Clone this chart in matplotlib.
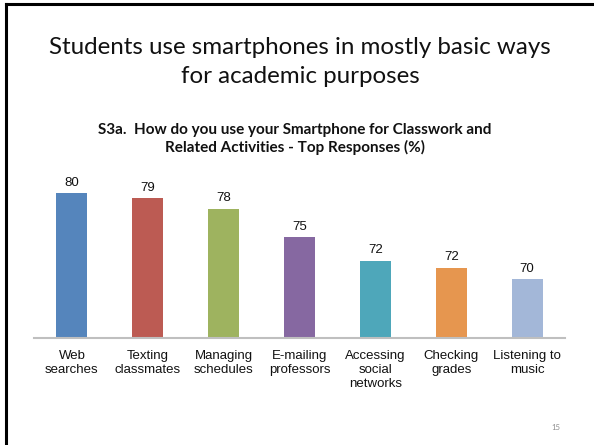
#!/usr/bin/env python3
"""Slide: how students use smartphones for classwork (top responses, %)."""

import matplotlib
matplotlib.use("Agg")
import matplotlib.pyplot as plt
from matplotlib.lines import Line2D

# ---------------------------------------------------------------------------
# Data
# ---------------------------------------------------------------------------

categories = [
    "Web\nsearches",
    "Texting\nclassmates",
    "Managing\nschedules",
    "E-mailing\nprofessors",
    "Accessing\nsocial\nnetworks",
    "Checking\ngrades",
    "Listening to\nmusic",
]
percent = [80.0, 79.4, 78.2, 75.0, 72.3, 71.5, 70.2]
bar_colors = ["#5585BC", "#BC5B53", "#9EB35F", "#8668A1",
              "#4EA7BA", "#E6964F", "#A3B7D8"]

title = "Students use smartphones in mostly basic ways\nfor academic purposes"
subtitle = ("S3a.  How do you use your Smartphone for Classwork and\n"
            "Related Activities - Top Responses (%)")
page_number = "15"

# ---------------------------------------------------------------------------
# Figure
# ---------------------------------------------------------------------------

fig = plt.figure(figsize=(5.94, 4.45), dpi=100)
fig.patch.set_facecolor("white")

# slide frame (left and top edges)
fig.add_artist(Line2D([5.5 / 594, 5.5 / 594], [0, 1 - 4 / 445],
                      color="black", lw=2.2, transform=fig.transFigure))
fig.add_artist(Line2D([5.5 / 594, 1], [1 - 4 / 445, 1 - 4 / 445],
                      color="black", lw=2.2, transform=fig.transFigure))

fig.text(0.505, 1 - 62 / 445, title, ha="center", va="center",
         fontsize=17.4, family="Lato", linespacing=1.45, color="#111111")
fig.text(0.4966, 1 - 139 / 445, subtitle, ha="center", va="center",
         fontsize=11, family="Lato", fontweight="bold", linespacing=1.22,
         color="#111111")
fig.text(556 / 594, 1 - 427 / 445, page_number, ha="center", va="center",
         fontsize=5.5, family="Lato", color="#8C8C8C")

ax = fig.add_axes([34 / 594, (445 - 337.7) / 445, 531 / 594, 157.7 / 445])
x = range(len(categories))
ymin = 63.54
ax.bar(x, [v - ymin for v in percent], bottom=ymin, width=0.41,
       color=bar_colors, edgecolor="none")
ax.set_xlim(-0.5, len(categories) - 0.5)
ax.set_ylim(ymin, ymin + 157.7 / 8.81)

for i, v in enumerate(percent):
    ax.annotate(f"{v:.0f}", (i, v), xytext=(0, 3), textcoords="offset points",
                ha="center", va="bottom", fontsize=9.5,
                family="Liberation Sans", color="#111111")

ax.set_xticks(list(x))
ax.set_xticklabels(categories, fontsize=9.5, family="Liberation Sans",
                   linespacing=1.2, color="#111111")
ax.tick_params(axis="x", length=0, pad=9)
ax.set_yticks([])
for side in ("top", "right", "left"):
    ax.spines[side].set_visible(False)
ax.spines["bottom"].set_color("#BFBFBF")
ax.spines["bottom"].set_linewidth(1.5)

fig.savefig("out.png", dpi=100)
